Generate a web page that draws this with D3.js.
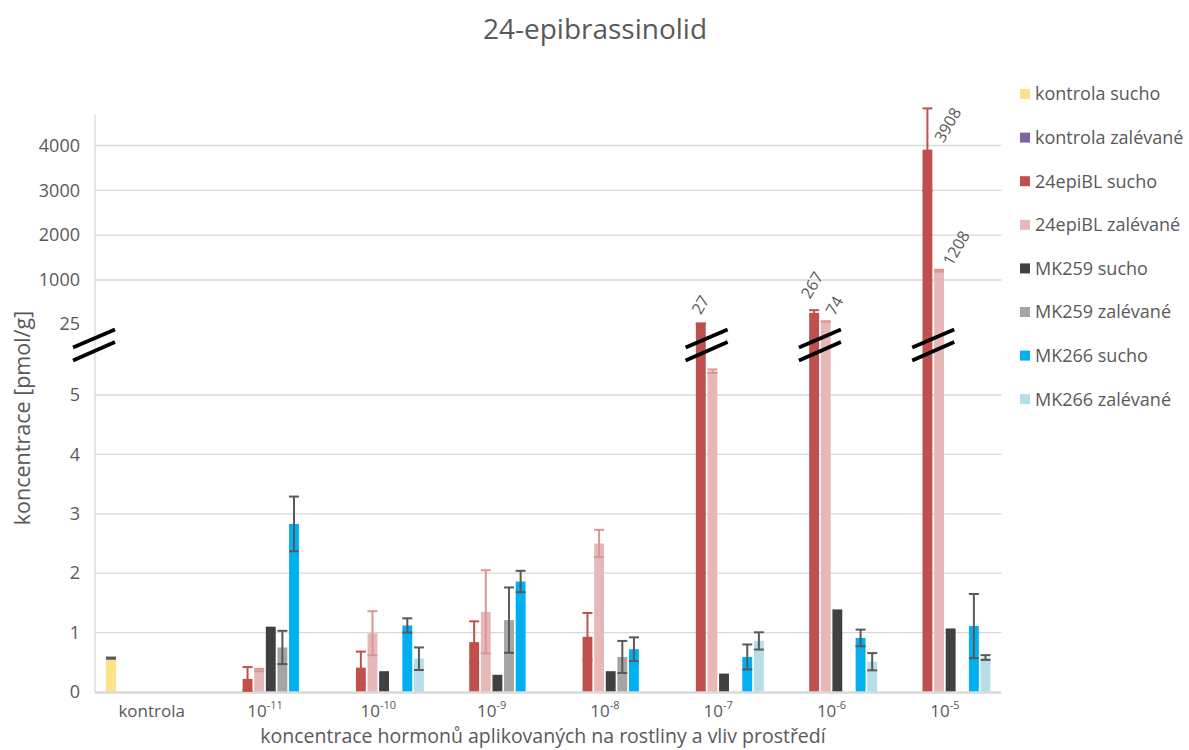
<!DOCTYPE html>
<html>
<head>
<meta charset="utf-8">
<script src="https://cdn.jsdelivr.net/npm/d3@7"></script>
<style>
  html, body { margin: 0; padding: 0; background: #fff; }
  svg { display: block; font-family: "Open Sans", "Liberation Sans", sans-serif; }
</style>
</head>
<body>
<svg id="chart" width="1189" height="750"></svg>
<script>
// ---------- DATA ----------
const categories = ["kontrola", "1e-11", "1e-10", "1e-9", "1e-8", "1e-7", "1e-6", "1e-5"];
const categoryBase = ["kontrola", "10", "10", "10", "10", "10", "10", "10"];
const categoryExp = ["", "-11", "-10", "-9", "-8", "-7", "-6", "-5"];

const seriesNames = ["kontrola sucho", "kontrola zalévané", "24epiBL sucho", "24epiBL zalévané",
                     "MK259 sucho", "MK259 zalévané", "MK266 sucho", "MK266 zalévané"];
const seriesColors = ["#ffe189", "#8064a2", "#c0504d", "#e6b9b8", "#404040", "#a5a5a5", "#00b0f0", "#b7dee8"];
const errorColors = ["#595959", "#595959", "#c0504d", "#d99694", "#595959", "#595959", "#595959", "#595959"];

const kontrolaSucho      = [0.57, 0, 0, 0, 0, 0, 0, 0];
const kontrolaZalevane   = [0, 0, 0, 0, 0, 0, 0, 0];
const epiBLSucho         = [0, 0.22, 0.41, 0.84, 0.93, 27, 267, 3908];
const epiBLZalevane      = [0, 0.37, 0.99, 1.35, 2.50, 5.40, 74, 1208];
const mk259Sucho         = [0, 1.10, 0.35, 0.29, 0.35, 0.31, 1.39, 1.07];
const mk259Zalevane      = [0, 0.75, 0, 1.21, 0.59, 0, 0, 0];
const mk266Sucho         = [0, 2.83, 1.12, 1.86, 0.72, 0.59, 0.91, 1.11];
const mk266Zalevane      = [0, 0, 0.56, 0, 0, 0.86, 0.51, 0.58];

const kontrolaSuchoErr    = [0.01, 0, 0, 0, 0, 0, 0, 0];
const kontrolaZalevaneErr = [0, 0, 0, 0, 0, 0, 0, 0];
const epiBLSuchoErr       = [0, 0.20, 0.27, 0.35, 0.40, 1, 60, 920];
const epiBLZalevaneErr    = [0, 0.02, 0.37, 0.70, 0.23, 0.03, 2, 20];
const mk259SuchoErr       = [0, 0, 0, 0, 0, 0, 0, 0];
const mk259ZalevaneErr    = [0, 0.28, 0, 0.55, 0.27, 0, 0, 0];
const mk266SuchoErr       = [0, 0.46, 0.12, 0.18, 0.20, 0.21, 0.14, 0.54];
const mk266ZalevaneErr    = [0, 0, 0.19, 0, 0, 0.145, 0.145, 0.04];

const lowerTicks = [0, 1, 2, 3, 4, 5];
const upperTicks = [25, 1000, 2000, 3000, 4000];
const labelledValues = [27, 267, 74, 3908, 1208];   // values shown as data labels

const seriesValues = [kontrolaSucho, kontrolaZalevane, epiBLSucho, epiBLZalevane,
                      mk259Sucho, mk259Zalevane, mk266Sucho, mk266Zalevane];
const seriesErrors = [kontrolaSuchoErr, kontrolaZalevaneErr, epiBLSuchoErr, epiBLZalevaneErr,
                      mk259SuchoErr, mk259ZalevaneErr, mk266SuchoErr, mk266ZalevaneErr];

// ---------- LAYOUT ----------
const textColor = "#595959";
const gridColor = "#d9d9d9";
const plotLeft = 95, plotRight = 1001.5, plotBottom = 692, plotTop = 115;
const lowMax = 6;   // values above this are drawn on the upper (broken) segment
const breakY = 345;
// placement nudges (px) of the rotated data labels, relative to the bar top centre
const labelNudge = { 27: [0, -8], 267: [-4, -13], 74: [9, -5], 3908: [16, -6], 1208: [13, -4] };

const svg = d3.select("#chart");

const x0 = d3.scaleBand().domain(categories).range([plotLeft, plotRight])
  .paddingInner(0.18).paddingOuter(0.09);
const x1 = d3.scaleBand().domain(d3.range(seriesNames.length)).range([0, x0.bandwidth()])
  .paddingInner(0.15).paddingOuter(0.075);

const yLow = d3.scaleLinear().domain([0, 5]).range([plotBottom, 395]);
const yHigh = d3.scaleLinear().domain([1000, 4000]).range([280, 145.5]);
const yv = v => (v <= lowMax ? yLow(v) : yHigh(v));

// Title
svg.append("text").attr("x", 595).attr("y", 39).attr("text-anchor", "middle")
  .attr("fill", textColor).attr("font-size", 28).text("24-epibrassinolid");

// Gridlines
const gridVals = lowerTicks.filter(d => d > 0).map(d => yLow(d))
  .concat(upperTicks.filter(d => d >= 1000).map(d => yHigh(d)));
svg.append("g").selectAll("line").data(gridVals).join("line")
  .attr("x1", plotLeft).attr("x2", plotRight)
  .attr("y1", d => d).attr("y2", d => d)
  .attr("stroke", gridColor).attr("stroke-width", 1.3);

// Left axis line
svg.append("line").attr("x1", plotLeft).attr("x2", plotLeft)
  .attr("y1", plotTop).attr("y2", plotBottom)
  .attr("stroke", gridColor).attr("stroke-width", 1.3);

// Y axes (lower and upper segment)
function styleAxis(g) {
  g.select(".domain").remove();
  g.selectAll("text").attr("fill", textColor).attr("font-size", 18)
    .attr("font-family", "Open Sans, Liberation Sans, sans-serif");
}
svg.append("g").attr("transform", `translate(${plotLeft},0)`)
  .call(d3.axisLeft(yLow).tickValues(lowerTicks).tickSize(0).tickPadding(15).tickFormat(d3.format("d")))
  .call(styleAxis);
svg.append("g").attr("transform", `translate(${plotLeft},0)`)
  .call(d3.axisLeft(yHigh).tickValues(upperTicks).tickSize(0).tickPadding(15).tickFormat(d3.format("d")))
  .call(styleAxis);

// Bars
const bars = svg.append("g");
seriesValues.forEach((vals, s) => {
  bars.append("g").selectAll("rect")
    .data(vals.map((v, i) => ({ v, i })).filter(d => d.v > 0))
    .join("rect")
    .attr("x", d => x0(categories[d.i]) + x1(s))
    .attr("width", x1.bandwidth())
    .attr("y", d => yv(d.v))
    .attr("height", d => plotBottom - yv(d.v))
    .attr("fill", seriesColors[s]);
});

// X axis line
svg.append("line").attr("x1", plotLeft).attr("x2", plotRight)
  .attr("y1", plotBottom + 0.5).attr("y2", plotBottom + 0.5)
  .attr("stroke", gridColor).attr("stroke-width", 2.5);

// Error bars
const errG = svg.append("g");
seriesValues.forEach((vals, s) => {
  vals.forEach((v, i) => {
    const e = seriesErrors[s][i];
    if (!(v > 0) || !(e > 0)) return;
    const cx = x0(categories[i]) + x1(s) + x1.bandwidth() / 2;
    const yTop = yv(v + e), yBot = yv(Math.max(0, v - e));
    const g = errG.append("g").attr("stroke", errorColors[s]).attr("stroke-width", 2);
    g.append("line").attr("x1", cx).attr("x2", cx).attr("y1", yTop).attr("y2", yBot);
    g.append("line").attr("x1", cx - 5).attr("x2", cx + 5).attr("y1", yTop).attr("y2", yTop);
    g.append("line").attr("x1", cx - 5).attr("x2", cx + 5).attr("y1", yBot).attr("y2", yBot);
  });
});

// Data labels for values on the upper segment
const labG = svg.append("g");
seriesValues.forEach((vals, s) => {
  vals.forEach((v, i) => {
    if (!labelledValues.includes(v)) return;
    const cx = x0(categories[i]) + x1(s) + x1.bandwidth() / 2;
    const nudge = labelNudge[v] || [6, -6];
    const lx = cx + nudge[0];
    const ly = yv(v) + nudge[1];
    labG.append("text").attr("transform", `translate(${lx},${ly}) rotate(-60)`)
      .attr("fill", textColor).attr("font-size", 16).text(d3.format("d")(v));
  });
});

// Break markers
function breakMark(cx) {
  const g = svg.append("g").attr("stroke", "#000").attr("stroke-width", 3.6);
  g.append("line").attr("x1", cx - 21).attr("y1", breakY + 2.5).attr("x2", cx + 21).attr("y2", breakY - 15.5);
  g.append("line").attr("x1", cx - 21).attr("y1", breakY + 15.5).attr("x2", cx + 21).attr("y2", breakY - 3);
}
breakMark(plotLeft - 1);
categories.forEach((c, i) => {
  if (d3.max(seriesValues, vals => vals[i]) > lowMax) {
    const boundary = x0(c) + x1(3) - (x1.step() - x1.bandwidth()) / 2;
    breakMark(boundary);
  }
});

// X axis labels
const xAxisG = svg.append("g").attr("transform", `translate(0,${plotBottom})`)
  .call(d3.axisBottom(x0).tickSize(0).tickFormat(() => ""));
xAxisG.select(".domain").remove();
xAxisG.selectAll(".tick").each(function (d, i) {
  const t = d3.select(this).append("text").attr("y", 25).attr("fill", textColor)
    .attr("font-size", 17).attr("text-anchor", "middle")
    .attr("font-family", "Open Sans, Liberation Sans, sans-serif");
  t.append("tspan").text(categoryBase[i]);
  if (categoryExp[i]) {
    t.append("tspan").attr("font-size", 11).attr("dy", -8).text(categoryExp[i]);
  }
});

// Axis titles
svg.append("text").attr("x", 543).attr("y", 743).attr("text-anchor", "middle")
  .attr("fill", textColor).attr("font-size", 19.5)
  .text("koncentrace hormonů aplikovaných na rostliny a vliv prostředí");
svg.append("text").attr("transform", "translate(30,418) rotate(-90)").attr("text-anchor", "middle")
  .attr("fill", textColor).attr("font-size", 21.5).text("koncentrace [pmol/g]");

// Legend
const legend = svg.append("g");
seriesNames.forEach((name, i) => {
  const y = 94 + i * 43.6;
  legend.append("rect").attr("x", 1020).attr("y", y - 5).attr("width", 10).attr("height", 10)
    .attr("fill", seriesColors[i]);
  legend.append("text").attr("x", 1035).attr("y", y).attr("dy", "0.35em")
    .attr("fill", textColor).attr("font-size", 18).text(name);
});
</script>
</body>
</html>
